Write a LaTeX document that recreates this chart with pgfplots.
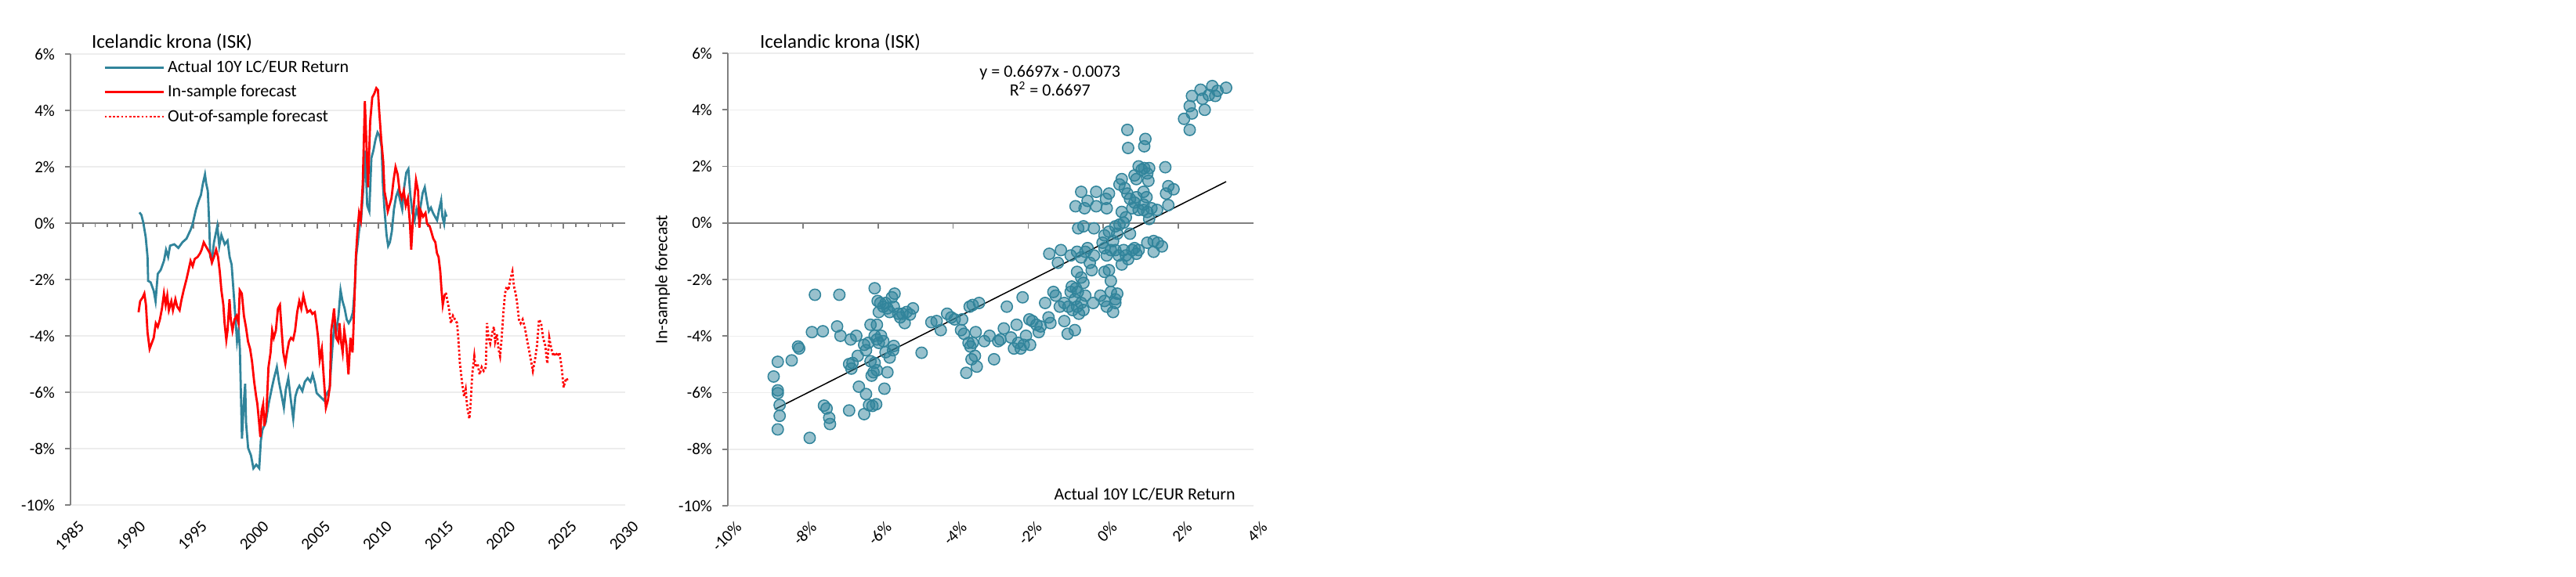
\documentclass[border=0pt]{standalone}
\usepackage{fontspec}
\setmainfont{Carlito}
\usepackage{pgfplots}
\pgfplotsset{compat=1.18}
\definecolor{teal1}{HTML}{31849B}
\definecolor{axgray}{HTML}{808080}
\definecolor{gridgray}{HTML}{EDEDED}
\newcommand{\tickfont}{\fontsize{10.5}{12}\selectfont}
\newcommand{\lblfont}{\fontsize{11}{13}\selectfont}
\pgfplotsset{
  baseL/.style={scale only axis, width=354pt, height=288pt, at={(45pt,45.5pt)}, anchor=south west,
    xmin=1985, xmax=2030, ymin=-10, ymax=6, clip=false},
  baseR/.style={scale only axis, width=335.5pt, height=289pt, at={(464.5pt,45pt)}, anchor=south west,
    xmin=-10, xmax=4, ymin=-10, ymax=6, clip=false},
  layerA/.style={axis x line=bottom, axis y line=left,
    x axis line style={draw=none}, y axis line style={axgray, line width=0.85pt, -},
    x tick style={draw=none}, y tick style={axgray, line width=0.85pt},
    ytick={-10,-8,...,6}, yticklabels={-10\%,-8\%,-6\%,-4\%,-2\%,0\%,2\%,4\%,6\%},
    ymajorgrids, grid style={gridgray, line width=0.75pt},
    tick align=outside, major tick length=3.5pt,
    xticklabel style={rotate=45, anchor=north east, font=\tickfont, inner sep=1pt, yshift=-6pt},
    yticklabel style={font=\tickfont, xshift=-3pt}},
  layerB/.style={axis x line*=middle, hide y axis,
    x axis line style={axgray, line width=0.85pt, -}, tick style={axgray, line width=0.85pt},
    xticklabel=\empty, tick align=outside, major tick length=3.5pt, minor tick length=2.5pt},
}
\begin{document}
\begin{tikzpicture}
\useasboundingbox (0,0) rectangle (1644pt,368pt);
% ---------------- left chart ----------------
\begin{axis}[baseL, layerA, xtick={1985,1990,...,2030},
  xticklabels={1985,1990,1995,2000,2005,2010,2015,2020,2025,2030}]
\end{axis}
\begin{axis}[baseL, layerB, xtick={1985,1990,...,2030}, minor x tick num=4,
  legend cell align=left,
  legend image code/.code={\draw[#1] (0pt,0pt) -- (37.5pt,0pt);},
  legend style={at={(0,1)}, anchor=north west, xshift=21pt, yshift=-2pt, draw=none, fill=none,
    font=\lblfont, row sep=2.5pt, inner sep=0pt, nodes={inner sep=2pt}}]
\addplot[teal1, line width=1.4pt] coordinates {
(1990.59,0.38)(1990.75,0.29)(1990.9,0.03)(1991.1,-0.49)(1991.25,-1.2)(1991.3,-2.05)(1991.5,-2.1)(1991.75,-2.4)(1991.9,-2.77)(1992.08,-1.8)(1992.32,-1.66)(1992.58,-1.34)(1992.75,-0.95)(1992.92,-1.2)(1993.08,-0.8)(1993.42,-0.75)(1993.75,-0.88)(1994.08,-0.68)(1994.41,-0.55)(1994.75,-0.23)(1994.91,-0.03)(1995.18,0.49)(1995.41,0.81)(1995.58,1.0)(1995.74,1.4)(1995.91,1.73)(1996.01,1.4)(1996.14,1.14)(1996.24,0.1)(1996.34,-1.2)(1996.47,-1.33)(1996.64,-0.68)(1996.91,-0.1)(1997.07,-0.81)(1997.24,-0.42)(1997.51,-0.75)(1997.74,-0.62)(1997.91,-1.2)(1998.07,-1.47)(1998.24,-2.5)(1998.41,-3.55)(1998.51,-4.2)(1998.64,-3.8)(1998.74,-4.46)(1998.91,-7.65)(1999.07,-6.29)(1999.17,-5.7)(1999.24,-7.07)(1999.41,-7.98)(1999.64,-8.24)(1999.84,-8.7)(2000.07,-8.57)(2000.31,-8.7)(2000.44,-7.72)(2000.57,-7.33)(2000.84,-7.07)(2001.07,-6.42)(2001.31,-5.9)(2001.51,-5.5)(2001.74,-5.11)(2001.91,-5.63)(2002.14,-6.15)(2002.31,-6.55)(2002.47,-5.9)(2002.67,-5.5)(2002.84,-6.15)(2003.07,-6.94)(2003.24,-6.15)(2003.41,-5.9)(2003.57,-5.77)(2003.81,-5.96)(2004.01,-5.63)(2004.24,-5.5)(2004.47,-5.63)(2004.64,-5.37)(2004.84,-5.7)(2004.97,-6.03)(2005.24,-6.15)(2005.57,-6.29)(2005.81,-6.03)(2006.01,-5.9)(2006.24,-4.46)(2006.41,-3.55)(2006.57,-3.8)(2006.74,-3.29)(2006.91,-2.38)(2007.07,-2.77)(2007.24,-3.03)(2007.41,-3.42)(2007.57,-3.55)(2007.74,-3.42)(2007.91,-3.16)(2008.07,-2.25)(2008.17,-1.2)(2008.31,-0.68)(2008.44,-0.16)(2008.57,0.1)(2008.74,1.14)(2008.91,2.57)(2009.07,0.62)(2009.24,0.42)(2009.41,2.31)(2009.57,2.57)(2009.74,2.96)(2009.91,3.22)(2010.07,3.1)(2010.24,2.7)(2010.34,1.4)(2010.47,0.49)(2010.64,-0.42)(2010.77,-0.81)(2010.91,-0.68)(2011.07,-0.29)(2011.24,0.49)(2011.41,0.94)(2011.57,1.14)(2011.74,0.81)(2011.91,0.49)(2012.07,1.27)(2012.24,1.79)(2012.41,1.92)(2012.57,1.0)(2012.74,0.36)(2012.91,0.1)(2013.07,0.49)(2013.24,0.23)(2013.41,0.62)(2013.57,1.07)(2013.74,1.27)(2013.91,0.81)(2014.07,0.42)(2014.24,0.55)(2014.41,0.36)(2014.57,0.23)(2014.74,0.1)(2014.91,0.49)(2015.07,0.81)(2015.17,0.23)(2015.31,-0.03)(2015.41,0.36)(2015.51,0.23)};
\addlegendentry{Actual 10Y LC/EUR Return}
\addplot[red, line width=1.4pt] coordinates {
(1990.52,-3.16)(1990.65,-2.77)(1990.85,-2.64)(1990.99,-2.5)(1991.12,-2.9)(1991.25,-3.88)(1991.42,-4.46)(1991.58,-4.27)(1991.75,-4.07)(1991.92,-3.55)(1992.08,-3.68)(1992.25,-3.42)(1992.42,-3.03)(1992.58,-2.5)(1992.72,-2.9)(1992.85,-2.57)(1992.98,-3.09)(1993.18,-2.77)(1993.31,-3.09)(1993.51,-2.7)(1993.65,-2.96)(1993.85,-3.09)(1993.98,-2.77)(1994.18,-2.38)(1994.41,-1.99)(1994.58,-1.66)(1994.74,-1.34)(1994.91,-1.53)(1995.08,-1.27)(1995.31,-1.2)(1995.51,-1.07)(1995.64,-0.94)(1995.81,-0.68)(1995.97,-0.81)(1996.14,-0.94)(1996.31,-1.07)(1996.47,-1.4)(1996.64,-1.2)(1996.81,-0.94)(1996.97,-1.2)(1997.11,-1.72)(1997.24,-2.38)(1997.40,-2.9)(1997.50,-3.55)(1997.64,-4.14)(1997.74,-3.81)(1997.90,-2.7)(1998.00,-3.42)(1998.14,-3.81)(1998.30,-3.42)(1998.47,-3.29)(1998.63,-3.55)(1998.73,-2.38)(1998.90,-2.5)(1999.07,-3.29)(1999.23,-3.68)(1999.40,-4.2)(1999.57,-4.46)(1999.73,-4.92)(1999.90,-5.63)(2000.06,-6.15)(2000.16,-6.42)(2000.30,-7.07)(2000.40,-7.59)(2000.50,-6.68)(2000.63,-6.42)(2000.73,-7.2)(2000.90,-6.68)(2001.06,-5.11)(2001.23,-4.59)(2001.36,-3.81)(2001.49,-4.07)(2001.66,-3.81)(2001.83,-3.03)(2001.99,-2.9)(2002.13,-3.81)(2002.26,-4.59)(2002.43,-4.98)(2002.56,-4.59)(2002.73,-4.2)(2002.89,-4.07)(2003.06,-4.14)(2003.22,-3.81)(2003.39,-3.16)(2003.56,-2.77)(2003.72,-3.03)(2003.89,-2.57)(2004.06,-2.9)(2004.22,-3.16)(2004.45,-3.09)(2004.62,-3.22)(2004.82,-3.16)(2004.95,-3.55)(2005.09,-4.07)(2005.22,-4.85)(2005.39,-4.46)(2005.55,-5.5)(2005.72,-6.55)(2005.88,-6.29)(2006.05,-5.77)(2006.15,-3.81)(2006.28,-3.42)(2006.38,-3.03)(2006.55,-4.07)(2006.72,-4.2)(2006.82,-3.55)(2006.95,-4.2)(2007.08,-4.59)(2007.21,-3.81)(2007.38,-4.33)(2007.55,-5.37)(2007.71,-4.07)(2007.88,-4.59)(2007.95,-3.81)(2008.05,-2.5)(2008.15,-1.2)(2008.28,-0.29)(2008.41,0.36)(2008.55,0.1)(2008.71,1.4)(2008.88,4.33)(2009.04,2.44)(2009.14,1.27)(2009.31,3.6)(2009.48,4.46)(2009.64,4.59)(2009.81,4.79)(2009.94,4.72)(2010.04,4.0)(2010.21,2.96)(2010.37,2.18)(2010.47,1.14)(2010.61,0.81)(2010.74,0.42)(2010.87,0.62)(2011.04,0.88)(2011.21,1.53)(2011.37,1.99)(2011.54,1.73)(2011.70,1.14)(2011.87,0.88)(2012.04,1.14)(2012.20,0.62)(2012.37,0.88)(2012.54,-0.03)(2012.64,-0.94)(2012.74,-0.16)(2012.87,0.75)(2013.03,1.53)(2013.20,1.14)(2013.30,-0.16)(2013.43,0.42)(2013.60,0.23)(2013.80,0.36)(2013.93,-0.03)(2014.13,-0.1)(2014.26,-0.29)(2014.43,-0.55)(2014.60,-0.68)(2014.73,-1.07)(2014.86,-1.2)(2015.00,-1.72)(2015.10,-2.38)(2015.20,-2.9)(2015.30,-2.64)(2015.40,-2.5)};
\addlegendentry{In-sample forecast}
\addplot[red, line width=1.4pt, dash pattern=on 1.3pt off 1.3pt] coordinates {
(2015.40,-2.5)(2015.46,-2.5)(2015.70,-3.03)(2015.86,-3.55)(2016.03,-3.29)(2016.19,-3.42)(2016.36,-3.55)(2016.46,-4.07)(2016.59,-4.98)(2016.76,-5.63)(2016.93,-6.15)(2017.06,-5.9)(2017.19,-6.55)(2017.36,-6.94)(2017.46,-6.42)(2017.59,-5.37)(2017.76,-4.72)(2017.86,-5.11)(2018.02,-4.98)(2018.19,-5.37)(2018.36,-5.11)(2018.52,-5.24)(2018.69,-5.11)(2018.79,-3.55)(2018.92,-4.07)(2019.05,-4.27)(2019.19,-3.94)(2019.35,-3.68)(2019.45,-4.2)(2019.59,-3.94)(2019.72,-4.46)(2019.85,-4.72)(2019.98,-4.07)(2020.12,-3.16)(2020.25,-2.5)(2020.38,-2.25)(2020.52,-2.38)(2020.68,-1.99)(2020.85,-1.72)(2020.98,-2.25)(2021.12,-2.5)(2021.25,-2.9)(2021.38,-3.42)(2021.52,-3.55)(2021.68,-3.42)(2021.85,-3.68)(2022.01,-4.07)(2022.18,-4.46)(2022.35,-4.85)(2022.51,-5.24)(2022.68,-4.85)(2022.85,-4.33)(2023.01,-3.42)(2023.18,-3.55)(2023.34,-4.07)(2023.51,-4.33)(2023.68,-4.98)(2023.84,-4.07)(2024.01,-4.46)(2024.18,-4.72)(2024.34,-4.59)(2024.51,-4.72)(2024.67,-4.59)(2024.84,-5.11)(2025.01,-5.83)(2025.11,-5.63)(2025.24,-5.5)(2025.37,-5.63)};
\addlegendentry{Out-of-sample forecast}
\end{axis}
\node[anchor=base west, font=\fontsize{12.5}{14}\selectfont] at (55pt,337.5pt) {Icelandic krona (ISK)};
% ---------------- right chart ----------------
\begin{axis}[baseR, layerA, xtick={-10,-8,...,4},
  xticklabels={-10\%,-8\%,-6\%,-4\%,-2\%,0\%,2\%,4\%},
  ylabel={In-sample forecast}, ylabel style={font=\lblfont, at={(axis description cs:-0.124,0.5)}, anchor=center}]
\end{axis}
\begin{axis}[baseR, layerB, xtick={-10,-8,...,4}]
\addplot[only marks, mark=*, mark size=3.6pt, mark options={draw=teal1, fill=teal1, fill opacity=0.5, line width=0.75pt}] coordinates {
(-8.78,-5.43)(-8.67,-4.91)(-8.67,-5.92)(-8.67,-6.02)(-8.62,-6.44)(-8.62,-6.82)(-8.67,-7.30)(-8.30,-4.86)(-8.13,-4.37)(-8.10,-4.44)(-7.82,-7.60)(-7.76,-3.86)(-7.68,-2.54)(-7.47,-3.83)(-7.44,-6.46)(-7.37,-6.56)(-7.30,-6.89)(-7.28,-7.11)(-7.09,-3.66)(-7.03,-2.54)(-7.00,-3.99)(-6.73,-4.12)(-6.77,-6.63)(-6.77,-4.99)(-6.71,-5.15)(-6.68,-4.95)(-6.54,-4.70)(-6.51,-5.79)(-6.58,-3.99)(-6.37,-6.76)(-6.32,-6.05)(-6.37,-4.31)(-6.32,-4.50)(-6.26,-4.24)(-6.24,-6.44)(-6.15,-6.47)(-6.05,-6.41)(-6.17,-5.40)(-6.12,-5.28)(-6.20,-4.89)(-6.09,-4.95)(-6.03,-5.21)(-6.20,-3.60)(-6.03,-3.60)(-6.09,-3.99)(-6.03,-4.12)(-5.98,-4.24)(-5.92,-3.99)(-5.86,-4.18)(-6.09,-2.31)(-6.01,-2.76)(-5.94,-2.83)(-5.86,-2.96)(-5.98,-3.15)(-5.80,-2.83)(-5.75,-3.02)(-5.69,-3.15)(-5.63,-2.63)(-5.56,-2.50)(-5.58,-2.96)(-5.46,-3.21)(-5.41,-3.34)(-5.35,-3.21)(-5.29,-3.54)(-5.24,-3.15)(-5.15,-3.24)(-5.07,-3.02)(-5.80,-4.57)(-5.69,-4.76)(-5.60,-4.50)(-5.58,-4.35)(-5.75,-5.28)(-5.83,-5.86)(-4.84,-4.59)(-4.58,-3.51)(-4.44,-3.47)(-4.33,-3.79)(-4.16,-3.21)(-4.05,-3.34)(-3.96,-3.41)(-3.76,-3.41)(-3.79,-3.79)(-3.71,-3.92)(-3.59,-4.24)(-3.54,-4.37)(-3.48,-4.24)(-3.56,-2.96)(-3.48,-2.90)(-3.31,-2.83)(-3.42,-4.70)(-3.51,-4.82)(-3.37,-5.08)(-3.65,-5.30)(-3.40,-3.86)(-3.17,-4.18)(-3.03,-3.99)(-2.91,-4.82)(-2.80,-4.18)(-2.74,-4.12)(-2.65,-3.73)(-2.57,-2.96)(-2.46,-4.05)(-2.38,-4.44)(-2.31,-3.60)(-2.27,-4.24)(-2.20,-4.44)(-2.12,-4.31)(-2.06,-3.99)(-1.95,-4.31)(-2.15,-2.63)(-1.97,-3.41)(-1.89,-3.47)(-1.78,-3.60)(-1.72,-3.86)(-1.67,-3.66)(-1.55,-2.83)(-1.46,-3.34)(-1.41,-3.54)(-1.44,-1.09)(-1.21,-1.41)(-1.13,-0.96)(-1.33,-2.44)(-1.27,-2.57)(-1.04,-3.47)(-0.95,-3.92)(-0.76,-3.79)(-1.16,-2.96)(-1.04,-2.83)(-0.93,-2.96)(-0.87,-2.44)(-0.82,-3.08)(-0.76,-2.70)(-0.70,-2.96)(-0.68,-2.44)(-0.65,-3.21)(-0.59,-2.83)(-0.53,-3.08)(-0.48,-2.57)(-0.84,-2.25)(-0.73,-2.31)(-0.87,-1.15)(-0.70,-1.02)(-0.59,-1.22)(-0.70,-1.73)(-0.59,-1.93)(-0.53,-2.12)(-0.48,-1.02)(-0.42,-0.89)(-0.36,-1.41)(-0.31,-1.67)(-0.25,-1.15)(-0.67,-0.19)(-0.53,-0.12)(-0.25,-0.19)(-0.74,0.59)(-0.59,1.10)(-0.50,0.52)(-0.42,0.78)(-0.19,1.10)(-0.19,0.59)(-0.27,-2.83)(-0.08,-2.57)(-0.02,-0.70)(0.03,-0.89)(0.09,-1.15)(0.20,-0.96)(0.03,-1.73)(0.15,-1.67)(0.20,-2.05)(0.03,-2.76)(0.09,-2.96)(0.20,-2.44)(0.26,-3.15)(0.32,-2.70)(0.37,-2.50)(0.32,-2.83)(0.03,-0.44)(0.15,-0.31)(0.26,-0.64)(0.32,-0.12)(0.37,-0.38)(0.43,-0.06)(0.09,0.52)(0.07,0.85)(0.15,1.04)(0.32,-0.96)(0.41,-1.15)(0.49,-1.47)(0.54,-0.96)(0.60,-1.15)(0.66,-1.28)(0.77,-0.96)(0.83,-0.89)(0.88,-1.09)(0.94,-0.96)(0.71,-0.38)(0.49,0.39)(0.54,0.01)(0.60,0.20)(0.43,1.36)(0.49,1.55)(0.57,1.23)(0.64,1.04)(0.71,0.85)(0.77,0.52)(0.83,0.72)(0.88,0.91)(0.94,0.46)(0.83,1.68)(0.88,1.55)(0.94,2.00)(1.02,1.88)(1.09,1.94)(1.17,1.75)(1.20,1.49)(1.22,1.94)(1.07,1.10)(1.15,0.91)(1.07,0.65)(1.17,0.39)(1.07,0.46)(1.22,0.14)(1.28,0.52)(1.43,0.46)(1.12,2.97)(1.09,2.71)(0.64,3.29)(0.66,2.65)(1.17,-0.70)(1.34,-0.64)(1.45,-0.70)(1.56,-0.83)(1.34,-1.02)(1.65,1.97)(1.67,1.04)(1.73,1.30)(1.87,1.19)(1.73,0.63)(2.15,3.68)(2.30,4.13)(2.36,4.49)(2.30,3.29)(2.36,3.87)(2.59,4.71)(2.64,4.39)(2.70,4.00)(2.81,4.52)(2.90,4.84)(2.98,4.49)(3.04,4.67)(3.27,4.78)};
\addplot[black, line width=0.75pt] coordinates {(-8.75,-6.59)(3.27,1.46)};
\node[anchor=base, font=\lblfont] at (axis cs:-1.42,5.16) {y = 0.6697x - 0.0073};
\node[anchor=base, font=\lblfont] at (axis cs:-1.42,4.48) {R\textsuperscript{2} = 0.6697};
\node[anchor=base east, font=\lblfont, inner sep=0pt] at (axis cs:3.52,-9.78) {Actual 10Y LC/EUR Return};
\end{axis}
\node[anchor=base west, font=\fontsize{12.5}{14}\selectfont] at (481.5pt,337.5pt) {Icelandic krona (ISK)};
\end{tikzpicture}
\end{document}
